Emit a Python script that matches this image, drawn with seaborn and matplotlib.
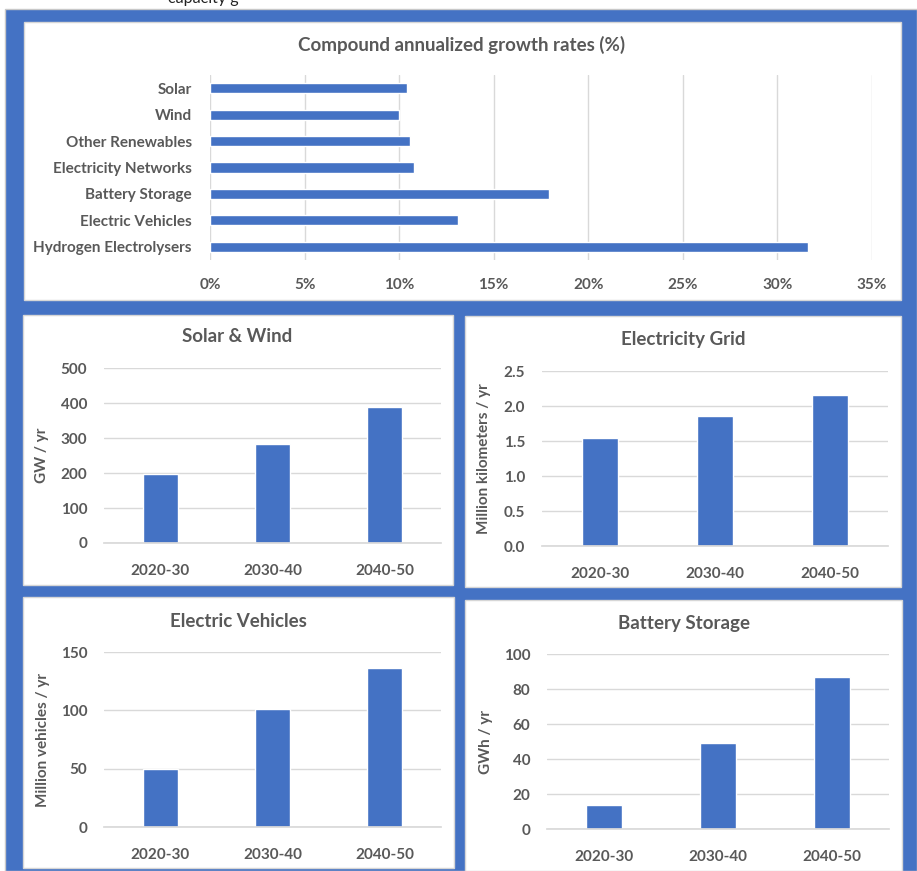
import matplotlib
matplotlib.use("Agg")
import matplotlib.pyplot as plt
import seaborn as sns
import pandas as pd
from matplotlib.patches import Rectangle
from matplotlib.ticker import FuncFormatter, MultipleLocator

# ---- data ----
technologies = ["Solar", "Wind", "Other Renewables", "Electricity Networks",
                "Battery Storage", "Electric Vehicles", "Hydrogen Electrolysers"]
growth_rates = [10.4, 10.0, 10.6, 10.8, 17.9, 13.1, 31.6]   # % per year

decades = ["2020-30", "2030-40", "2040-50"]
solar_wind_gw = [197, 284, 390]
grid_million_km = [1.55, 1.86, 2.16]
ev_million = [50, 101, 136]
battery_gwh = [14, 49, 87]

# ---- style ----
BLUE = "#4472C4"
TEXT = "#595959"
GRID = "#D9D9D9"
TICK_SIZE = 11
TITLE_SIZE = 13.5

sns.set_theme(style="white")
plt.rcParams["font.family"] = ["Lato", "DejaVu Sans"]
plt.rcParams["font.weight"] = "bold"

W, H = 917, 871
fig = plt.figure(figsize=(W / 100, H / 100), dpi=100)
fig.patch.set_facecolor("white")


def box(x0, y0, x1, y1):
    """pixel box (top-left origin) -> figure fraction rect"""
    return [x0 / W, 1 - y1 / H, (x1 - x0) / W, (y1 - y0) / H]


def panel(x0, y0, x1, y1, color, edge="none", z=-5):
    r = Rectangle(box(x0, y0, x1, y1)[:2], (x1 - x0) / W, (y1 - y0) / H,
                  transform=fig.transFigure, facecolor=color, edgecolor=edge,
                  linewidth=1, zorder=z)
    fig.add_artist(r)


# blue frame and white chart cards
panel(5, 9, 917, 871, BLUE, edge="#C8C8C8", z=-10)
for x0, y0, x1, y1 in [(24, 22, 901, 300), (23, 315, 453, 585),
                       (465, 316, 901, 587), (23, 597, 454, 868),
                       (465, 600, 902, 871)]:
    panel(x0, y0, x1, y1, "white", edge="#D6D6D6", z=-5)

# caption line running off the top of the page
fig.text(168 / W, 1 - 2.5 / H, "capacity g", ha="left", va="baseline",
         fontsize=11.5, fontweight="normal", color="#222222")


def ptitle(xc, yc, s, size=TITLE_SIZE):
    fig.text(xc / W, 1 - yc / H, s, ha="center", va="center",
             fontsize=size, fontweight="bold", color=TEXT)


def clean(ax):
    ax.set_facecolor("none")
    for sp in ax.spines.values():
        sp.set_visible(False)
    ax.tick_params(length=0, colors=TEXT, labelsize=TICK_SIZE)
    for lab in ax.get_xticklabels() + ax.get_yticklabels():
        lab.set_fontweight("bold")


# ---- top: compound annual growth rates ----
ax0 = fig.add_axes(box(210, 75, 872, 260))
df0 = pd.DataFrame({"tech": technologies, "rate": growth_rates})
sns.barplot(data=df0, x="rate", y="tech", orient="h", color=BLUE,
            saturation=1, width=0.38, ax=ax0)
ax0.set_xlim(0, 35)
ax0.xaxis.set_major_locator(MultipleLocator(5))
ax0.xaxis.set_major_formatter(FuncFormatter(lambda v, p: f"{v:.0f}%"))
ax0.grid(axis="x", color=GRID, linewidth=1)
ax0.set_axisbelow(True)
ax0.set_xlabel("")
ax0.set_ylabel("")
clean(ax0)
ax0.tick_params(axis="x", pad=13)
ax0.tick_params(axis="y", pad=13)
ptitle(462, 45, "Compound annualized growth rates (%)")


# ---- small decade charts ----
def decade_chart(rect, values, ymax, step, fmt, ylabel, label_x_px, title, title_xy):
    ax = fig.add_axes(box(*rect))
    df = pd.DataFrame({"decade": decades, "value": values})
    sns.barplot(data=df, x="decade", y="value", color=BLUE, saturation=1,
                width=0.31, ax=ax)
    ax.set_ylim(0, ymax)
    ax.yaxis.set_major_locator(MultipleLocator(step))
    ax.yaxis.set_major_formatter(FuncFormatter(lambda v, p: fmt.format(v)))
    ax.grid(axis="y", color=GRID, linewidth=1)
    ax.set_axisbelow(True)
    ax.set_xlabel("")
    ax.set_ylabel(ylabel, fontsize=TICK_SIZE, fontweight="bold", color=TEXT)
    w = rect[2] - rect[0]
    ax.yaxis.set_label_coords((label_x_px - rect[0]) / w, 0.5)
    clean(ax)
    ax.spines["bottom"].set_visible(True)
    ax.spines["bottom"].set_color(GRID)
    ax.tick_params(axis="x", pad=15)
    ax.tick_params(axis="y", pad=12)
    ptitle(*title_xy, title)
    return ax


decade_chart((104, 368, 441, 543), solar_wind_gw, 500, 100, "{:.0f}",
             "GW / yr", 49, "Solar & Wind", (237, 337))
decade_chart((542, 371, 888, 546), grid_million_km, 2.5, 0.5, "{:.1f}",
             "Million kilometers / yr", 491, "Electricity Grid", (683, 339))
decade_chart((104, 652, 441, 827), ev_million, 150, 50, "{:.0f}",
             "Million vehicles / yr", 50, "Electric Vehicles", (238, 621))
decade_chart((547, 654, 889, 829), battery_gwh, 100, 20, "{:.0f}",
             "GWh / yr", 493, "Battery Storage", (684, 623))

fig.savefig("out.png", dpi=100)
